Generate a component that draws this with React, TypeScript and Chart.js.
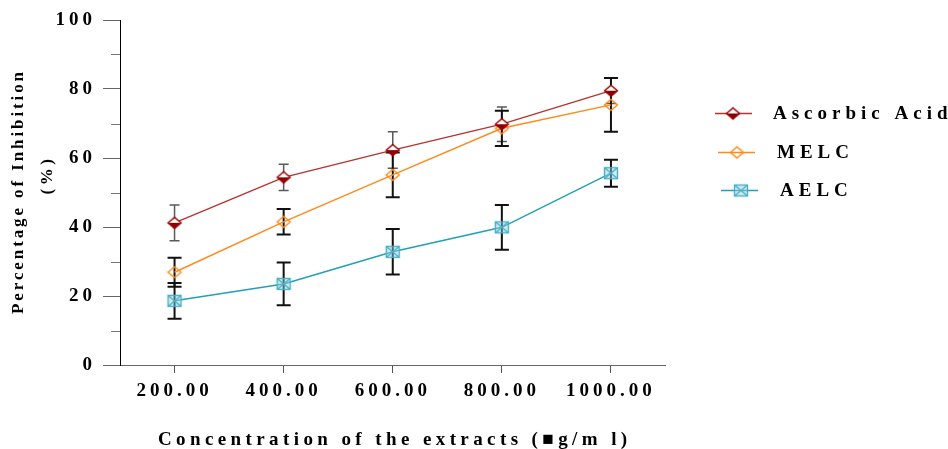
import React, { useEffect, useRef } from 'react';
import { Chart, registerables } from 'chart.js';

Chart.register(...registerables);

// ---- data ----
const concentrations = [200, 400, 600, 800, 1000];
const ascorbicMean = [41.2, 54.4, 62.3, 69.8, 79.5];
const ascorbicSD = [5.2, 3.8, 5.3, 5.0, 3.7];
const melcMean = [26.9, 41.5, 55.1, 68.6, 75.4];
const melcSD = [4.2, 3.7, 6.5, 5.1, 7.8];
const aelcMean = [18.6, 23.5, 32.8, 39.9, 55.6];
const aelcSD = [5.2, 6.2, 6.6, 6.5, 3.9];
const seriesNames = ['Ascorbic Acid', 'MELC', 'AELC'];
const yMinorTicks = [10, 30, 50, 70, 90];
const xTitle = 'Concentration of the extracts (\u25A0g/m l)';
const yTitle1 = 'Percentage of Inhibition';
const yTitle2 = '(%)';

const FONT = '"Liberation Serif", "Times New Roman", serif';
const RED_LINE = '#B8322E';
const RED_MARK = '#A00000';
const ORANGE = '#FF8A1C';
const TEAL = '#23A0B8';

function makeMarker(kind: string): HTMLCanvasElement {
  const c = document.createElement('canvas');
  c.width = 18;
  c.height = 16;
  const g = c.getContext('2d')!;
  const cx = 9, cy = 8, hw = 6.5, hh = 5.5;
  if (kind === 'ascorbic') {
    g.fillStyle = '#fff';
    g.beginPath();
    g.moveTo(cx - hw, cy); g.lineTo(cx, cy - hh); g.lineTo(cx + hw, cy); g.closePath();
    g.fill();
    g.fillStyle = '#8B0000';
    g.beginPath();
    g.moveTo(cx - hw, cy); g.lineTo(cx + hw, cy); g.lineTo(cx, cy + hh); g.closePath();
    g.fill();
    g.strokeStyle = RED_MARK;
    g.lineWidth = 1.4;
    g.beginPath();
    g.moveTo(cx - hw, cy); g.lineTo(cx, cy - hh); g.lineTo(cx + hw, cy); g.lineTo(cx, cy + hh); g.closePath();
    g.stroke();
  } else if (kind === 'melc') {
    g.strokeStyle = ORANGE;
    g.lineWidth = 1.4;
    g.beginPath();
    g.moveTo(cx - hw, cy); g.lineTo(cx, cy - hh); g.lineTo(cx + hw, cy); g.lineTo(cx, cy + hh); g.closePath();
    g.stroke();
  } else {
    const w = 13, h = 11;
    const x0 = cx - w / 2, y0 = cy - h / 2;
    g.fillStyle = 'rgba(150,210,225,0.45)';
    g.fillRect(x0, y0, w, h);
    g.strokeStyle = '#4AAFC6';
    g.lineWidth = 1.4;
    g.strokeRect(x0, y0, w, h);
    g.beginPath();
    g.moveTo(x0, y0); g.lineTo(x0 + w, y0 + h);
    g.moveTo(x0 + w, y0); g.lineTo(x0, y0 + h);
    g.stroke();
  }
  return c;
}

export default function App() {
  const ref = useRef<HTMLCanvasElement | null>(null);

  useEffect(() => {
    const canvas = ref.current;
    if (!canvas) return;
    const markers = [makeMarker('ascorbic'), makeMarker('melc'), makeMarker('aelc')];
    const means = [ascorbicMean, melcMean, aelcMean];
    const sds = [ascorbicSD, melcSD, aelcSD];
    const lineColors = [RED_LINE, ORANGE, TEAL];

    const toPts = (arr: number[]) => concentrations.map((x, i) => ({ x, y: arr[i] }));

    const plugin = {
      id: 'custom',
      beforeDraw(chart: any) {
        chart.ctx.letterSpacing = '4px';
      },
      beforeDatasetsDraw(chart: any) {
        const ctx = chart.ctx;
        const xs = chart.scales.x;
        const ys = chart.scales.y;
        ctx.save();
        ctx.letterSpacing = '0px';
        // minor y ticks
        ctx.strokeStyle = '#777';
        ctx.lineWidth = 1;
        yMinorTicks.forEach((v) => {
          const y = Math.round(ys.getPixelForValue(v)) + 0.5;
          ctx.beginPath();
          ctx.moveTo(chart.chartArea.left - 9, y);
          ctx.lineTo(chart.chartArea.left, y);
          ctx.stroke();
        });
        // error bars
        [0, 1, 2].forEach((s) => {
          const isAsc = s === 0;
          ctx.strokeStyle = isAsc ? '#5a5a5a' : '#111';
          ctx.lineWidth = isAsc ? 1.5 : 2;
          const cap = isAsc ? 5 : 7;
          concentrations.forEach((c, i) => {
            const x = xs.getPixelForValue(c);
            const yt = ys.getPixelForValue(means[s][i] + sds[s][i]);
            const yb = ys.getPixelForValue(means[s][i] - sds[s][i]);
            ctx.beginPath();
            ctx.moveTo(x, yt); ctx.lineTo(x, yb);
            ctx.moveTo(x - cap, yt); ctx.lineTo(x + cap, yt);
            ctx.moveTo(x - cap, yb); ctx.lineTo(x + cap, yb);
            ctx.stroke();
          });
        });
        ctx.restore();
      },
      afterDraw(chart: any) {
        const ctx = chart.ctx;
        const area = chart.chartArea;
        ctx.save();
        ctx.fillStyle = '#000';
        ctx.textBaseline = 'middle';
        // x title
        ctx.font = `bold 19px ${FONT}`;
        ctx.letterSpacing = '4.4px';
        ctx.textAlign = 'center';
        ctx.fillText(xTitle, (area.left + area.right) / 2 + 2, 440);
        // y title
        ctx.save();
        ctx.translate(19, 193);
        ctx.rotate(-Math.PI / 2);
        ctx.font = `bold 17px ${FONT}`;
        ctx.letterSpacing = '2.9px';
        ctx.fillText(yTitle1, 1.5, 0);
        ctx.restore();
        ctx.save();
        ctx.translate(48, 177);
        ctx.rotate(-Math.PI / 2);
        ctx.font = `bold 17px ${FONT}`;
        ctx.letterSpacing = '3.5px';
        ctx.fillText(yTitle2, 2, 0);
        ctx.restore();
        // legend
        const rows = [
          { y: 113, x0: 715, mx: 733, tx: 773 },
          { y: 152, x0: 718, mx: 737, tx: 777 },
          { y: 190, x0: 721, mx: 741, tx: 780 },
        ];
        rows.forEach((r, i) => {
          ctx.strokeStyle = lineColors[i];
          ctx.lineWidth = i === 0 ? 1.3 : 1.5;
          ctx.beginPath();
          ctx.moveTo(r.x0, r.y + 0.5);
          ctx.lineTo(r.x0 + 37, r.y + 0.5);
          ctx.stroke();
          const m = markers[i];
          ctx.drawImage(m, r.mx - m.width / 2, r.y - m.height / 2 + 0.5);
          ctx.font = `bold 19px ${FONT}`;
          ctx.letterSpacing = '5px';
          ctx.textAlign = 'left';
          ctx.fillText(seriesNames[i], r.tx, r.y + 1);
        });
        ctx.restore();
      },
    };

    const tickFont = { family: FONT, size: 19, weight: 'bold' as const };

    const chart = new Chart(canvas, {
      type: 'line',
      data: {
        datasets: [
          {
            label: seriesNames[0],
            data: toPts(ascorbicMean),
            borderColor: RED_LINE,
            borderWidth: 1.3,
            pointStyle: markers[0],
            pointRadius: 7,
            pointHoverRadius: 7,
          },
          {
            label: seriesNames[1],
            data: toPts(melcMean),
            borderColor: ORANGE,
            borderWidth: 1.5,
            pointStyle: markers[1],
            pointRadius: 7,
            pointHoverRadius: 7,
          },
          {
            label: seriesNames[2],
            data: toPts(aelcMean),
            borderColor: TEAL,
            borderWidth: 1.5,
            pointStyle: markers[2],
            pointRadius: 7,
            pointHoverRadius: 7,
          },
        ],
      },
      options: {
        animation: false,
        responsive: false,
        devicePixelRatio: 1,
        events: [],
        layout: { padding: { left: 20, top: 20, right: 282.5, bottom: 44 } },
        plugins: {
          legend: { display: false },
          tooltip: { enabled: false },
        },
        scales: {
          x: {
            type: 'linear',
            min: 100,
            max: 1100,
            afterBuildTicks: (s: any) => {
              s.ticks = concentrations.map((v) => ({ value: v }));
            },
            afterFit: (s: any) => {
              s.height = 40;
            },
            ticks: {
              callback: (v: any) => Number(v).toFixed(2),
              font: tickFont,
              color: '#000',
              padding: 7,
              maxRotation: 0,
              autoSkip: false,
            },
            grid: {
              display: true,
              drawOnChartArea: false,
              drawTicks: true,
              tickLength: 8,
              color: '#555',
              tickColor: '#555',
            },
            border: { display: true, color: '#666', width: 1 },
          },
          y: {
            type: 'linear',
            min: 0,
            max: 100,
            afterFit: (s: any) => {
              s.width = 100;
            },
            ticks: {
              stepSize: 20,
              font: tickFont,
              color: '#000',
              padding: 7,
            },
            grid: {
              display: true,
              drawOnChartArea: false,
              drawTicks: true,
              tickLength: 17,
              color: '#666',
              tickColor: '#666',
            },
            border: { display: true, color: '#000', width: 1 },
          },
        },
      },
      plugins: [plugin],
    });

    return () => {
      chart.destroy();
    };
  }, []);

  return (
    <div style={{ position: 'absolute', left: 0, top: 0, width: 948, height: 449, background: '#fff' }}>
      <canvas ref={ref} width={948} height={449} style={{ display: 'block', width: 948, height: 449 }} />
    </div>
  );
}
